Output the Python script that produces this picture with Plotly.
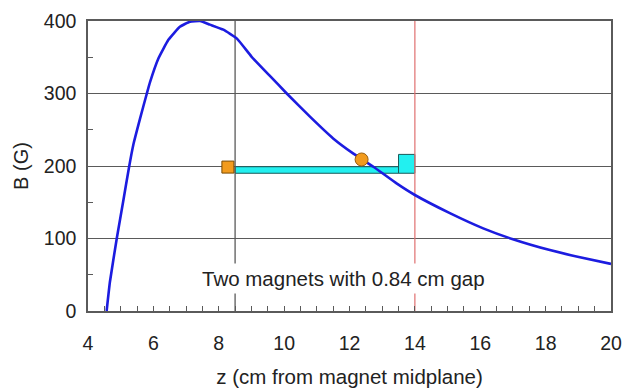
import plotly.graph_objects as go

# Field profile B(z)
z_vals = [4.57, 4.67, 4.88, 5.08, 5.25, 5.39, 5.59, 5.80, 5.90, 6.15, 6.46, 6.81, 7.12, 7.43,
          7.73, 8.14, 8.55, 9.0, 9.55, 10.08, 10.79, 11.5, 12.12, 12.73, 13.44, 14.0,
          15.07, 16.09, 17.0, 18.13, 19.05, 20.0]
b_vals = [0, 40, 100, 152, 197, 230, 265, 300, 316, 348, 374, 392, 399, 400,
          395, 388, 376, 351, 325, 300, 268, 238, 217, 199, 176, 160,
          135, 114, 99, 84, 74, 65]

# Magnet blocks (long bar + short tall block)
bar_x = [8.5, 13.5, 13.5, 8.5, 8.5]
bar_y = [190, 190, 199, 199, 190]
block_x = [13.5, 14.0, 14.0, 13.5, 13.5]
block_y = [190, 190, 216, 216, 190]

# Markers
sq_x, sq_y = [8.28], [198.5]
circ_x, circ_y = [12.37], [209]

# Reference lines
vline_black = 8.5
vline_red = 14.0

x_ticks = [4, 6, 8, 10, 12, 14, 16, 18, 20]
y_ticks = [0, 100, 200, 300, 400]

FONT = "Arial, Liberation Sans, sans-serif"
GRID = "#5a5a5a"

fig = go.Figure()

fig.add_trace(go.Scatter(x=bar_x, y=bar_y, mode="lines", fill="toself",
                         fillcolor="#22f0f0", line=dict(color="#1a5a5a", width=1),
                         hoverinfo="skip", showlegend=False))
fig.add_trace(go.Scatter(x=block_x, y=block_y, mode="lines", fill="toself",
                         fillcolor="#22f0f0", line=dict(color="#1a5a5a", width=1),
                         hoverinfo="skip", showlegend=False))

fig.add_trace(go.Scatter(x=[vline_black, vline_black], y=[0, 400], mode="lines",
                         line=dict(color=GRID, width=1.3), showlegend=False, hoverinfo="skip"))
fig.add_trace(go.Scatter(x=[vline_red, vline_red], y=[0, 400], mode="lines",
                         line=dict(color="#e07070", width=1.2), showlegend=False, hoverinfo="skip"))

fig.add_trace(go.Scatter(x=z_vals, y=b_vals, mode="lines",
                         line=dict(color="#1c1ce0", width=2.6, shape="spline", smoothing=0.4),
                         showlegend=False))

fig.add_trace(go.Scatter(x=sq_x, y=sq_y, mode="markers",
                         marker=dict(symbol="square", size=12, color="#f29b1d", line=dict(color="#7a4a00", width=1)),
                         showlegend=False))
fig.add_trace(go.Scatter(x=circ_x, y=circ_y, mode="markers",
                         marker=dict(symbol="circle", size=13, color="#f29b1d", line=dict(color="#9a6010", width=1)),
                         showlegend=False))

fig.add_annotation(x=11.83, y=45, xref="x", yref="y", text="Two magnets with 0.84 cm gap",
                   showarrow=False, bgcolor="white", font=dict(family=FONT, size=20.5, color="#222"),
                   borderpad=3)

fig.update_layout(
    width=622, height=388,
    margin=dict(l=88, r=11, t=21, b=77),
    paper_bgcolor="white", plot_bgcolor="white",
    font=dict(family=FONT, size=19, color="#222"),
    xaxis=dict(range=[4, 20], tickvals=x_ticks, ticks="inside", ticklen=5, tickcolor=GRID,
               minor=dict(dtick=0.5, ticks="inside", ticklen=5, tickcolor=GRID),
               showgrid=False, zeroline=False, showline=True, linecolor=GRID, linewidth=1.5,
               mirror=True, automargin=False, ticklabelstandoff=14,
               title=dict(text="z (cm from magnet midplane)", standoff=18,
                          font=dict(family=FONT, size=20.5, color="#222")),
               tickfont=dict(family=FONT, size=19.5, color="#222")),
    yaxis=dict(range=[0, 400], tickvals=y_ticks, ticks="", showgrid=True, gridcolor=GRID, gridwidth=1.3,
               minor=dict(tickvals=[50, 150, 250, 350], ticks="inside", ticklen=5, tickcolor=GRID, showgrid=False),
               zeroline=False, showline=True, linecolor=GRID, linewidth=1.5, mirror=True, automargin=False,
               title=dict(text="B (G)", standoff=10, font=dict(family=FONT, size=20, color="#222")),
               ticklabelstandoff=6, tickfont=dict(family=FONT, size=19.5, color="#222")),
)

fig.write_html("out.html")
